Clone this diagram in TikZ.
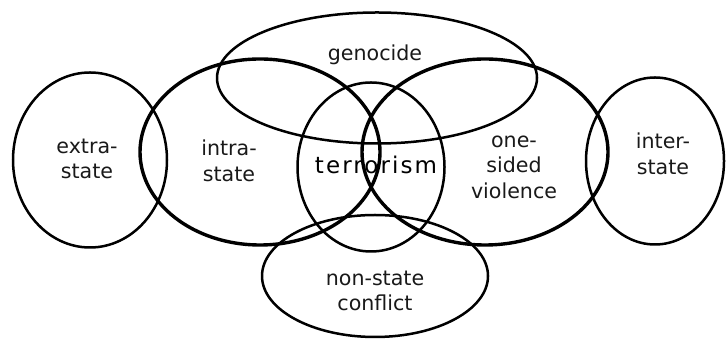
\documentclass[tikz,border=0pt]{standalone}
\usepackage{fontspec}
\setmainfont{DejaVu Sans}
\newfontfamily\terrfont[LetterSpace=9]{DejaVu Sans}
\usetikzlibrary{shapes}

\begin{document}
\begin{tikzpicture}[x=0.5pt, y=-0.5pt,
  set/.style={draw, ellipse, line width=1.25pt, inner sep=0pt},
  bigset/.style={set, line width=1.7pt},
  lbl/.style={align=center, text=black!90, font=\fontsize{10.3}{12.7}\selectfont}]
  \useasboundingbox (0,0) rectangle (726,340);

  \node[set, minimum width=77pt, minimum height=87.5pt] (extra) at (90,160) {};
  \node[bigset, minimum width=120pt, minimum height=93pt] (intra) at (260,152) {};
  \node[set, minimum width=160pt, minimum height=65.5pt] (geno) at (377,78) {};
  \node[set, minimum width=73.5pt, minimum height=84.5pt] (terror) at (371,167) {};
  \node[bigset, minimum width=123pt, minimum height=93pt] (onesided) at (485,152) {};
  \node[set, minimum width=69pt, minimum height=83.5pt] (inter) at (655,161) {};
  \node[set, minimum width=113pt, minimum height=61pt] (nonstate) at (375,276) {};

  \node[lbl] (extratxt) at (87,159) {extra-\\state};
  \node[lbl] (intratxt) at (229,161) {intra-\\state};
  \node[lbl] (genotxt) at (375,55) {genocide};
  \node[lbl, text=black, font=\terrfont\fontsize{11.5}{13}\selectfont] (terrortxt) at (376,165) {terrorism};
  \node[lbl] (onesidedtxt) at (514,167) {one-\\sided\\violence};
  \node[lbl] (intertxt) at (663,154) {inter-\\state};
  \node[lbl] (nonstatetxt) at (375,291) {non-state\\conflict};
\end{tikzpicture}
\end{document}
